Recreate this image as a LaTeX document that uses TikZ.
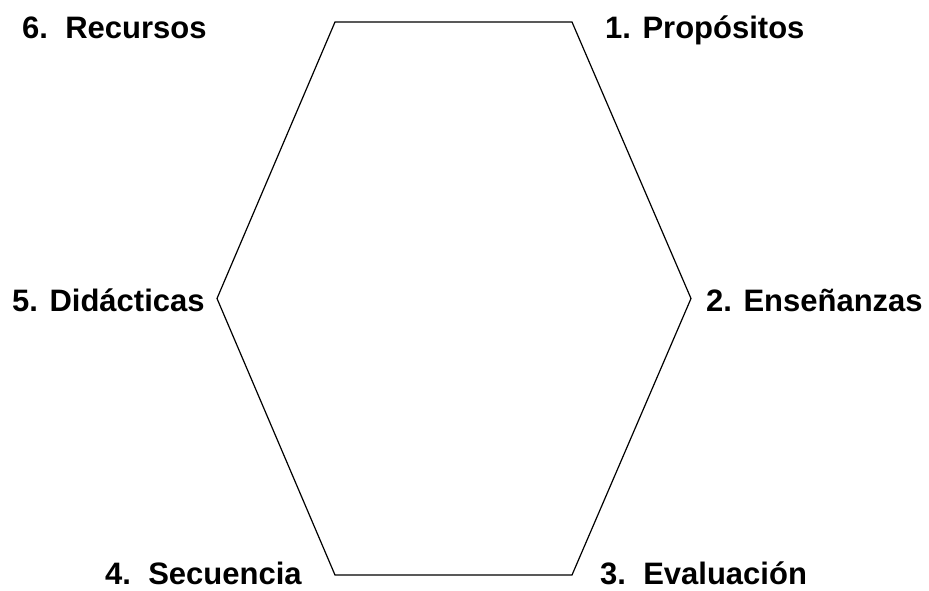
\documentclass[tikz,border=0pt]{standalone}
\usepackage{fontspec}
\setmainfont{Liberation Sans}
\tikzset{label text/.style={anchor=base west,inner sep=0pt,font=\fontsize{31}{34}\selectfont\bfseries},
 hex line/.style={draw=black,line width=1.2pt,line join=miter},
 }

\begin{document}
\begin{tikzpicture}[x=1pt,y=-1pt]
        \useasboundingbox (0,0) rectangle (929,591);
        \coordinate (tl) at (335,22);
        \coordinate (tr) at (572,22);
        \coordinate (rt) at (691,298.5);
        \coordinate (br) at (572,575);
        \coordinate (bl) at (335,575);
        \coordinate (lt) at (217,298.5);
        \draw[hex line] (tl) -- (tr) -- (rt) -- (br) -- (bl) -- (lt) -- cycle;
        \node[label text] (recursos) at (22,39) {6.\ \ Recursos};
        \node[label text] (propositos) at (605,39) {1. Propósitos};
        \node[label text] (didacticas) at (12,311) {5. Didácticas};
        \node[label text] (ensenanzas) at (706,311) {2. Enseñanzas};
        \node[label text] (secuencia) at (105,584) {4.\ \ Secuencia};
        \node[label text] (evaluacion) at (600,584) {3.\ \ Evaluación};
    \end{tikzpicture}
\end{document}
